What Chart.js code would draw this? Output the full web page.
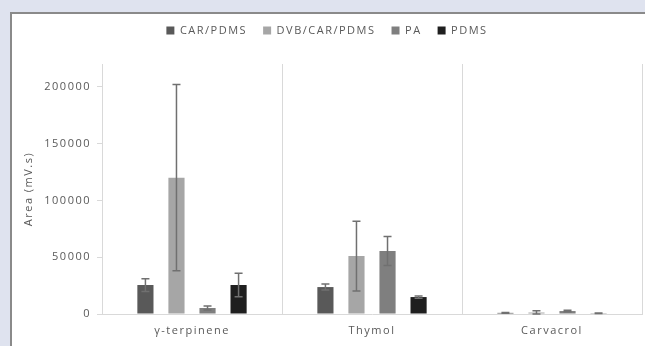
<!DOCTYPE html>
<html>
<head>
<meta charset="utf-8">
<script src="https://cdn.jsdelivr.net/npm/chart.js@4.4.1/dist/chart.umd.min.js"></script>
<style>
  html, body { margin: 0; padding: 0; background: #dfe3ef; }
  #frame {
    position: absolute; left: 10px; top: 12px; width: 635px; height: 334px;
    box-sizing: border-box; background: #fff;
    border-top: 2px solid #8a8a8a; border-left: 2px solid #8a8a8a;
  }
  canvas { display: block; }
</style>
</head>
<body>
<div id="frame"><canvas id="chart" width="633" height="332"></canvas></div>
<script>
// values
const categories = ['γ-terpinene', 'Thymol', 'Carvacrol'];
const seriesNames = ['CAR/PDMS', 'DVB/CAR/PDMS', 'PA', 'PDMS'];
const carPdms = [25500, 23700, 1000];
const carPdmsErr = [5600, 2600, 300];
const dvbCarPdms = [120000, 51000, 1300];
const dvbCarPdmsErr = [82000, 30700, 1600];
const pa = [5300, 55500, 2600];
const paErr = [1700, 12800, 700];
const pdms = [25500, 14900, 600];
const pdmsErr = [10400, 1000, 200];
const yTicks = [0, 50000, 100000, 150000, 200000];

const colors = ['#595959', '#a6a6a6', '#7f7f7f', '#1f1f1f'];
const values = [carPdms, dvbCarPdms, pa, pdms];
const errors = [carPdmsErr, dvbCarPdmsErr, paErr, pdmsErr];

// error bars, drawn through the chart's scales
const errorBars = {
  id: 'errorBars',
  afterDatasetsDraw(chart) {
    const ctx = chart.ctx;
    const y = chart.scales.y;
    ctx.save();
    ctx.strokeStyle = '#707070';
    ctx.lineWidth = 1.5;
    chart.data.datasets.forEach((ds, i) => {
      const meta = chart.getDatasetMeta(i);
      meta.data.forEach((bar, j) => {
        const v = ds.data[j], e = ds.err[j];
        const top = y.getPixelForValue(v + e);
        const bot = y.getPixelForValue(Math.max(0, v - e));
        const x = bar.x;
        ctx.beginPath();
        ctx.moveTo(x, top); ctx.lineTo(x, bot);
        ctx.moveTo(x - 4, top); ctx.lineTo(x + 4, top);
        ctx.moveTo(x - 4, bot); ctx.lineTo(x + 4, bot);
        ctx.stroke();
      });
    });
    ctx.restore();
  }
};

// letter spacing of the text, and room under the legend
const textStyle = {
  id: 'textStyle',
  beforeInit(chart) {
    const fit = chart.legend.fit;
    chart.legend.fit = function () { fit.call(this); this.height += 18; };
  },
  beforeLayout(chart) { chart.ctx.letterSpacing = '1.5px'; },
  beforeDraw(chart) { chart.ctx.letterSpacing = '1.5px'; }
};

Chart.defaults.font.family = '"Open Sans", sans-serif';
Chart.defaults.font.size = 11;
Chart.defaults.color = '#595959';

new Chart(document.getElementById('chart'), {
  type: 'bar',
  data: {
    labels: categories,
    datasets: seriesNames.map((name, i) => ({
      label: name,
      data: values[i],
      err: errors[i],
      backgroundColor: colors[i],
      borderWidth: 0,
      categoryPercentage: 0.69,
      barPercentage: 0.52
    }))
  },
  options: {
    responsive: false,
    animation: false,
    layout: { padding: { top: -5, right: 3, left: 0, bottom: 0 } },
    plugins: {
      legend: {
        position: 'top',
        labels: { boxWidth: 8, boxHeight: 8, padding: 16, color: '#595959' }
      },
      tooltip: { enabled: false }
    },
    scales: {
      x: {
        grid: { color: '#d9d9d9', drawTicks: false, offset: true },
        border: { color: '#d9d9d9' },
        ticks: { padding: 10, color: '#595959' },
        afterFit(s) { s.height = 32; }
      },
      y: {
        min: 0,
        max: 220000,
        afterBuildTicks(s) { s.ticks = yTicks.map(v => ({ value: v })); },
        grid: { drawOnChartArea: false, color: '#d9d9d9', tickLength: 5 },
        border: { color: '#d9d9d9' },
        ticks: { padding: 6, color: '#595959', callback: v => String(v) },
        title: { display: true, text: 'Area (mV.s)', color: '#595959', padding: { top: 10, bottom: 0 } },
        afterFit(s) { s.width = 90; }
      }
    }
  },
  plugins: [errorBars, textStyle]
});
</script>
</body>
</html>
